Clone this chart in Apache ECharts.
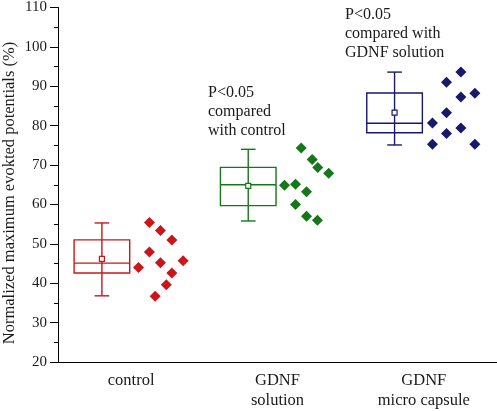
<!DOCTYPE html>
<html><head><meta charset="utf-8">
<script src="https://cdn.jsdelivr.net/npm/echarts@6/dist/echarts.min.js"></script>
<style>html,body{margin:0;padding:0;background:#fff}#c{width:497px;height:411px}</style>
</head><body><div id="c"></div>
<script>
// ---- data ----
const categories = ['control', 'GDNF\nsolution', 'GDNF\nmicro capsule'];
const whiskerLow  = [36.8, 55.8, 75.1];
const q1          = [42.6, 59.7, 78.2];
const medians     = [45.1, 65.0, 80.6];
const q3          = [51.0, 69.4, 88.3];
const whiskerHigh = [55.3, 74.0, 93.6];
const means       = [46.2, 64.7, 83.3];

const controlValues  = [55.4, 53.4, 51.0, 47.9, 45.7, 45.2, 44.0, 42.6, 39.6, 36.7];
const controlJitter  = [0.125, 0.20, 0.278, 0.125, 0.355, 0.20, 0.05, 0.278, 0.24, 0.164];
const solutionValues = [74.3, 71.4, 69.4, 67.9, 64.9, 65.1, 63.2, 60.0, 57.0, 56.0];
const solutionJitter = [0.162, 0.237, 0.275, 0.35, 0.048, 0.123, 0.198, 0.123, 0.198, 0.273];
const capsuleValues  = [93.6, 91.0, 88.2, 87.3, 83.3, 80.7, 79.4, 78.0, 75.3, 75.3];
const capsuleJitter  = [0.253, 0.155, 0.349, 0.253, 0.155, 0.059, 0.253, 0.155, 0.059, 0.349];

const annotationTexts = ['P<0.05\ncompared\nwith control', 'P<0.05\ncompared with\nGDNF solution'];

// ---- styles ----
const colors = ['#c8161b', '#14771a', '#17196a'];
const FONT = '"Liberation Serif", "Times New Roman", serif';
const TXT = '#1a1a1a';

const boxData = categories.map((_, i) => [i, whiskerLow[i], q1[i], medians[i], q3[i], whiskerHigh[i], means[i]]);

function renderBox(params, api) {
  const i = api.value(0);
  const off = -0.2, half = 0.19, cap = 0.05;
  const X = d => api.coord([i + off + d, 20])[0];
  const Y = k => api.coord([i, api.value(k)])[1];
  const xc = X(0), xl = X(-half), xr = X(half), cl = X(-cap), cr = X(cap);
  const col = colors[i];
  const st = { stroke: col, lineWidth: 1.4, fill: null };
  const yMin = Y(1), yQ1 = Y(2), yMed = Y(3), yQ3 = Y(4), yMax = Y(5), yMean = Y(6);
  return {
    type: 'group',
    children: [
      { type: 'line', shape: { x1: xc, y1: yMin, x2: xc, y2: yMax }, style: st },
      { type: 'line', shape: { x1: cl, y1: yMin, x2: cr, y2: yMin }, style: st },
      { type: 'line', shape: { x1: cl, y1: yMax, x2: cr, y2: yMax }, style: st },
      { type: 'rect', shape: { x: xl, y: yQ3, width: xr - xl, height: yQ1 - yQ3 }, style: st },
      { type: 'line', shape: { x1: xl, y1: yMed, x2: xr, y2: yMed }, style: st },
      { type: 'rect', shape: { x: xc - 2.5, y: yMean - 2.5, width: 5, height: 5 }, style: { stroke: col, lineWidth: 1.2, fill: '#fff' } }
    ]
  };
}

function pts(vals, jit, i) { return vals.map((v, k) => [i + jit[k], v]); }

const chart = echarts.init(document.getElementById('c'), null, { renderer: 'canvas' });
chart.setOption({
  animation: false,
  backgroundColor: '#fff',
  grid: { left: 58, right: 0, top: 7, bottom: 49, containLabel: false },
  xAxis: [
    {
      type: 'category', data: categories, boundaryGap: true,
      axisLine: { onZero: false, lineStyle: { color: '#000', width: 1 } },
      axisTick: { alignWithLabel: true, length: 5, lineStyle: { color: '#000' } },
      axisLabel: { fontFamily: FONT, fontSize: 16.5, color: TXT, lineHeight: 20, margin: 9 },
      splitLine: { show: false }
    },
    { type: 'value', min: -0.5, max: 2.5, show: false }
  ],
  yAxis: {
    type: 'value', min: 20, max: 110, interval: 10,
    axisLine: { show: true, onZero: false, lineStyle: { color: '#000', width: 1 } },
    axisTick: { show: true, length: 8, lineStyle: { color: '#000' } },
    minorTick: { show: true, splitNumber: 2, length: 4, lineStyle: { color: '#000' } },
    axisLabel: { fontFamily: FONT, fontSize: 15, color: TXT, margin: 11 },
    splitLine: { show: false }
  },
  series: [
    { type: 'custom', xAxisIndex: 1, renderItem: renderBox, data: boxData, z: 2 },
    { type: 'scatter', xAxisIndex: 1, symbol: 'diamond', symbolSize: 11, itemStyle: { color: colors[0], opacity: 1 }, data: pts(controlValues, controlJitter, 0) },
    { type: 'scatter', xAxisIndex: 1, symbol: 'diamond', symbolSize: 11, itemStyle: { color: colors[1], opacity: 1 }, data: pts(solutionValues, solutionJitter, 1) },
    { type: 'scatter', xAxisIndex: 1, symbol: 'diamond', symbolSize: 11, itemStyle: { color: colors[2], opacity: 1 }, data: pts(capsuleValues, capsuleJitter, 2) }
  ],
  graphic: [
    { type: 'text', x: 10, y: 193, rotation: Math.PI / 2,
      style: { text: 'Normalized maximum evokted potentials (%)', font: '16.5px ' + FONT, fill: TXT, align: 'center', verticalAlign: 'middle' } },
    { type: 'text', left: 208, top: 83,
      style: { text: annotationTexts[0], font: '16px ' + FONT, fill: TXT, lineHeight: 19.2 } },
    { type: 'text', left: 345, top: 5,
      style: { text: annotationTexts[1], font: '16px ' + FONT, fill: TXT, lineHeight: 19.2 } }
  ]
});
</script>
</body></html>
